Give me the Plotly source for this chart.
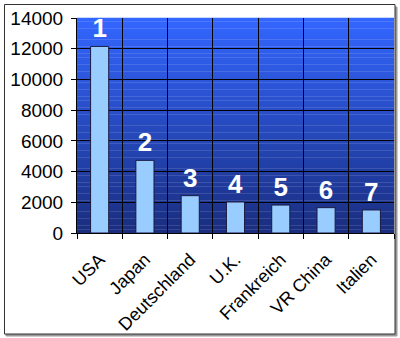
import plotly.graph_objects as go

countries = ["USA", "Japan", "Deutschland", "U.K.", "Frankreich", "VR China", "Italien"]
values = [12150, 4730, 2430, 2020, 1820, 1650, 1500]
ranks = ["1", "2", "3", "4", "5", "6", "7"]
y_ticks = [0, 2000, 4000, 6000, 8000, 10000, 12000, 14000]
y_labels = ["0", "2000", "4000", "6000", "8000", "10000", "12000", "14000"]

W, H = 400, 338
ml, mr, mt, mb = 77, 6, 18, 105
pw, ph = W - ml - mr, H - mt - mb

def px_x(x):
    return (x - ml) / pw

def px_y(y):
    return (H - mb - y) / ph

fig = go.Figure()
fig.add_trace(go.Bar(
    x=countries, y=values, text=ranks, textposition="outside",
    texttemplate="<b>%{text}</b>",
    textfont=dict(color="white", size=26, family="Liberation Sans, Arial, sans-serif"),
    cliponaxis=False,
    marker=dict(color="#99CCFF", line=dict(color="#1a1a40", width=1)),
    width=0.4,
))

shapes = []
# outer frame with shadow
shapes.append(dict(type="rect", xref="paper", yref="paper",
                   x0=px_x(6), x1=px_x(397), y0=px_y(336), y1=px_y(7),
                   fillcolor="#999999", line=dict(color="#999999", width=1), layer="below"))
shapes.append(dict(type="rect", xref="paper", yref="paper",
                   x0=px_x(4.5), x1=px_x(395), y0=px_y(334), y1=px_y(4.5),
                   fillcolor="white", line=dict(color="#333333", width=1), layer="below"))
# gradient background bands
n = 60
top = (0x33, 0x66, 0xFF)
bot = (0x1A, 0x2E, 0x80)
for i in range(n):
    t = i / (n - 1)
    c = tuple(int(round(top[k] + (bot[k] - top[k]) * t)) for k in range(3))
    shapes.append(dict(type="rect", xref="x domain", yref="y domain",
                       x0=0, x1=1, y0=1 - (i + 1) / n, y1=1 - i / n + 0.001,
                       fillcolor="rgb(%d,%d,%d)" % c, line=dict(width=0), layer="below"))

fig.update_layout(
    width=W, height=H,
    margin=dict(l=ml, r=mr, t=mt, b=mb, autoexpand=False),
    paper_bgcolor="white", plot_bgcolor="#2a4ac0",
    showlegend=False,
    shapes=shapes,
    font=dict(family="Liberation Sans, Arial, sans-serif", color="black"),
    bargap=0.6,
)
fig.update_xaxes(
    type="category", tickson="boundaries", ticks="outside", ticklen=5,
    tickcolor="black", showgrid=True, gridcolor="black", gridwidth=1,
    tickangle=-45, tickfont=dict(size=18), showline=True, linecolor="black",
    range=[-0.5, 6.5], ticklabelstandoff=8, automargin=False,
)
fig.update_yaxes(
    range=[0, 14000], tickvals=y_ticks, ticktext=y_labels, ticks="outside", ticklen=5,
    tickcolor="black", showgrid=True, gridcolor="black", gridwidth=1,
    tickfont=dict(size=19), showline=True, linecolor="black", zeroline=False,
    ticklabelstandoff=4, automargin=False,
)
fig.write_html("out.html")
